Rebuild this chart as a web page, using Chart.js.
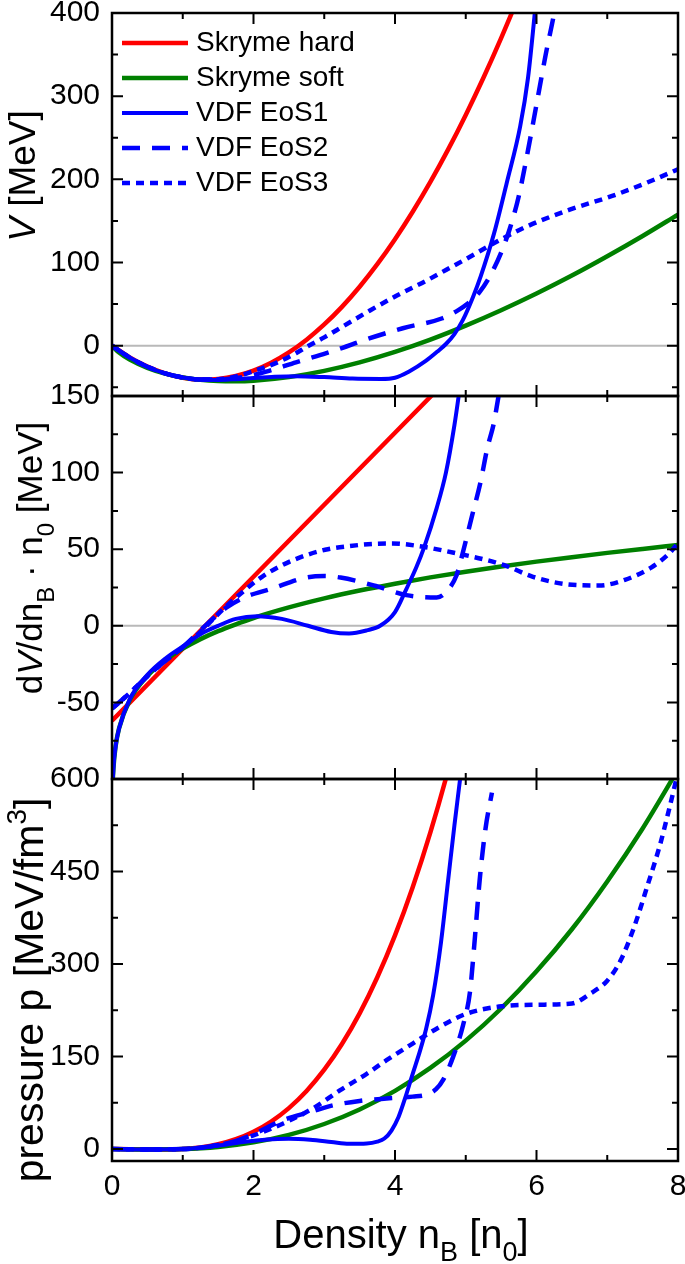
<!DOCTYPE html>
<html>
<head>
<meta charset="utf-8">
<script src="https://cdn.jsdelivr.net/npm/chart.js@4.4.1/dist/chart.umd.min.js"></script>
<style>
  body { margin: 0; background: #fff; }
  #wrap { position: relative; width: 685px; height: 1264px; overflow: hidden; }
  canvas { position: absolute; left: 0; }
</style>
</head>
<body>
<div id="wrap">
  <canvas id="cV" width="685" height="420" style="top:0"></canvas>
  <canvas id="cD" width="685" height="430" style="top:370px"></canvas>
  <canvas id="cP" width="685" height="514" style="top:750px"></canvas>
</div>
<script>
// ---- tick labels ----
const nTicks = [0, 2, 4, 6, 8];
const vTicks = [0, 100, 200, 300, 400];
const dTicks = [-50, 0, 50, 100, 150];
const pTicks = [0, 150, 300, 450, 600];

const names = ['Skryme hard', 'Skryme soft', 'VDF EoS1', 'VDF EoS2', 'VDF EoS3'];

// ---- potential V [MeV] ----
const hardVn = [0, 0.25, 0.5, 0.75, 1, 1.25, 1.5, 1.75, 2, 2.25, 2.5, 2.75, 3, 3.25, 3.5, 3.75, 4, 4.25, 4.5, 4.75, 5, 5.25, 5.5, 5.75, 6];
const hardV  = [0, -14, -25.1, -33.3, -38.5, -40.8, -40.1, -36.5, -30, -20.5, -8.1, 7.2, 25.5, 46.7, 70.9, 98, 128, 161, 196.9, 235.7, 277.5, 322.2, 369.9, 420.5, 474];
const softVn = [0, 0.1, 0.25, 0.5, 0.75, 1, 1.25, 1.5, 1.75, 2, 2.5, 3, 3.5, 4, 4.5, 5, 5.5, 6, 6.5, 7, 7.5, 8];
const softV  = [0, -8.3, -16.8, -26.7, -33.6, -38.2, -41.1, -42.6, -42.9, -42.2, -37.8, -30.3, -20.1, -7.5, 7.3, 24.1, 42.6, 62.7, 84.3, 107.5, 131.9, 157.6];
const eos1Vn = [0, 0.25, 0.5, 0.75, 1, 1.25, 1.5, 1.75, 2, 2.3, 2.6, 3, 3.4, 3.8, 4, 4.2, 4.44, 4.6, 4.72, 4.84, 4.96, 5.1, 5.21, 5.4, 5.58, 5.77, 5.88, 5.97, 6.04];
const eos1V  = [0, -14.3, -25.3, -33.3, -38.3, -40.8, -41.2, -40.3, -38.8, -37.3, -36.7, -37.8, -39.6, -40, -38.5, -31, -18, -7, 2, 14, 31, 58, 83, 135, 196, 264, 322, 395, 460];
const eos2Vn = [0, 0.25, 0.5, 0.75, 1, 1.25, 1.5, 1.9, 2.23, 2.6, 3.03, 3.26, 3.54, 4.11, 4.67, 4.9, 5.02, 5.2, 5.35, 5.5, 5.62, 5.75, 5.88, 6, 6.13, 6.25, 6.35];
const eos2V  = [0, -14.3, -25.3, -33.3, -38.3, -40.8, -40.6, -37, -30, -20, -9, -2.5, 6, 21, 33, 43, 50, 65, 85, 112, 140, 180, 235, 290, 350, 400, 450];
const eos3Vn = [0, 0.25, 0.5, 0.75, 1, 1.25, 1.5, 1.75, 1.95, 2.34, 2.6, 2.76, 3, 3.26, 3.64, 4.02, 4.44, 4.72, 5, 5.37, 5.83, 6.45, 7.07, 7.56, 8];
const eos3V  = [0, -14.3, -25.3, -33.3, -38.3, -40.8, -40.4, -37, -32, -20, -9, -1, 10, 23, 42, 60, 78, 91, 104, 122, 142, 163, 180, 196, 212];

// ---- dV/dn_B * n0 [MeV] ----
const hardDn = [0, 8];
const hardD  = [-62, 314];
const softDn = [0, 0.001, 0.005, 0.01, 0.02, 0.05, 0.1, 0.25, 0.5, 0.75, 1, 1.25, 1.5, 1.75, 2, 2.5, 3, 3.5, 4, 4.5, 5, 5.5, 6, 6.5, 7, 7.5, 8];
const softD  = [-178, -126.4, -110.6, -102.3, -93, -79, -66.9, -48.5, -32.7, -22.5, -14.9, -8.7, -3.5, 1, 5.1, 12, 17.9, 23, 27.5, 31.6, 35.3, 38.7, 41.9, 44.8, 47.6, 50.2, 52.7];
const eos1Dn = [0, 0.002, 0.01, 0.03, 0.06, 0.1, 0.25, 0.5, 0.75, 1, 1.25, 1.5, 1.75, 2.05, 2.4, 2.77, 3.1, 3.35, 3.6, 3.79, 4, 4.16, 4.3, 4.41, 4.59, 4.72, 4.84, 4.9, 5];
const eos1D  = [-180, -120, -101, -87, -76, -67, -48, -32, -21.5, -13.5, -5.5, 0, 4.5, 6.3, 4.5, 0, -4, -5, -3, 0, 9, 24, 38, 51, 77, 100, 131, 150, 185];
const eos2Dn = [0, 0.2, 0.5, 0.75, 1, 1.25, 1.4, 1.62, 1.87, 2.24, 2.74, 3, 3.23, 3.73, 4.16, 4.59, 4.72, 4.87, 4.96, 5.09, 5.21, 5.3, 5.4, 5.46, 5.55];
const eos2D  = [-54, -46, -33, -23, -14, -3, 3.5, 12, 18.5, 24, 31.5, 32.5, 31.5, 26, 20, 18.5, 22, 33, 48, 72, 94, 115, 133, 149, 172];
const eos3Dn = [0, 0.2, 0.5, 0.75, 1, 1.25, 1.4, 1.62, 1.87, 2.12, 2.4, 2.74, 3.05, 3.35, 3.7, 3.97, 4.34, 4.9, 5.33, 5.58, 5.95, 6.45, 6.88, 7.25, 7.62, 7.87, 8];
const eos3D  = [-54, -46, -33, -23, -14, -4, 3, 13, 23, 32, 39.5, 46, 50, 52, 53.5, 53.7, 52, 47, 42.5, 39, 32, 27, 26.3, 30, 38, 47, 54];

// ---- pressure p [MeV/fm^3] ----
const hardPn = [0, 0.25, 0.5, 0.75, 1, 1.25, 1.5, 1.75, 2, 2.25, 2.5, 2.75, 3, 3.25, 3.5, 3.75, 4, 4.25, 4.5, 4.75, 5];
const hardP  = [0, -0.3, -0.8, -0.9, 0, 2.6, 7.7, 15.9, 28, 44.6, 66.4, 94.2, 128.6, 170.3, 220, 278.6, 346.5, 424.6, 513.5, 613.9, 726.6];
const softPn = [0, 0.5, 1, 1.5, 2, 2.5, 3, 3.5, 4, 4.5, 5, 5.5, 6, 6.5, 7, 7.5, 8];
const softP  = [0, -0.6, 0, 3.4, 10.8, 22.9, 40.6, 64.2, 94.3, 131.5, 175.8, 227.9, 288.2, 356.4, 433.9, 519.8, 615.4];
const eos1Pn = [0, 0.5, 1, 1.5, 1.85, 2.2, 2.5, 2.8, 3.1, 3.35, 3.6, 3.75, 3.85, 3.95, 4.05, 4.15, 4.25, 4.35, 4.44, 4.54, 4.65, 4.75, 4.84, 4.92, 5];
const eos1P  = [0, -0.6, 0, 5.5, 11.5, 15.5, 16.5, 15, 11.5, 8.5, 9, 12, 17, 30, 52, 85, 122, 158, 195, 250, 335, 435, 525, 600, 680];
const eos2Pn = [0, 0.5, 1, 1.5, 1.8, 2, 2.42, 2.8, 3.13, 3.5, 3.88, 4.25, 4.44, 4.58, 4.68, 4.82, 4.96, 5.06, 5.12, 5.2, 5.28, 5.37];
const eos2P  = [0, -0.6, 0, 6.5, 15, 24, 47, 60, 71, 78, 82, 85, 88, 97, 112, 149, 200, 255, 330, 440, 520, 578];
const eos3Pn = [0, 0.5, 1, 1.5, 1.75, 1.95, 2.42, 2.84, 3.22, 3.6, 3.88, 4.25, 4.63, 5, 5.47, 6, 6.5, 6.76, 7, 7.19, 7.38, 7.56, 7.75, 7.87, 7.96, 8];
const eos3P  = [0, -0.6, 0, 6.5, 13, 20, 41.5, 66, 95, 122, 144, 171, 198, 219, 231, 234, 236, 252, 273, 306, 360, 424, 495, 549, 592, 612];

const FONT = '"Liberation Sans", Arial, sans-serif';
Chart.defaults.font.family = FONT;
Chart.defaults.color = '#000';

const looks = [
  { borderColor: '#ff0000', borderWidth: 4.5, order: 5 },
  { borderColor: '#008000', borderWidth: 4.5, order: 4 },
  { borderColor: '#0000ff', borderWidth: 4, order: 1 },
  { borderColor: '#0000ff', borderWidth: 4.5, borderDash: [18, 12], order: 2 },
  { borderColor: '#0000ff', borderWidth: 4.5, borderDash: [8, 6], order: 3 }
];

function series(i, xs, ys) {
  return Object.assign({
    label: names[i],
    data: xs.map((x, k) => ({ x: x, y: ys[k] })),
    pointRadius: 0,
    fill: false,
    cubicInterpolationMode: 'monotone',
    capBezierPoints: false,
    clip: 0
  }, looks[i]);
}

// rich text: parts with sub / sup / italic, centred on (x, y) baseline
function drawRich(ctx, parts, x, y, size, rotate) {
  ctx.save();
  ctx.translate(x, y);
  if (rotate) ctx.rotate(-Math.PI / 2);
  const fontOf = p => (p.i ? 'italic ' : '') + ((p.s || p.u) ? Math.round(size * 0.68) : size) + 'px ' + FONT;
  let total = 0;
  parts.forEach(p => { ctx.font = fontOf(p); total += ctx.measureText(p.t).width; });
  let cx = -total / 2;
  ctx.fillStyle = '#000';
  ctx.textAlign = 'left';
  ctx.textBaseline = 'alphabetic';
  parts.forEach(p => {
    ctx.font = fontOf(p);
    const dy = p.s ? size * 0.33 : (p.u ? -size * 0.42 : 0);
    ctx.fillText(p.t, cx, dy);
    cx += ctx.measureText(p.t).width;
  });
  ctx.restore();
}

const framePlugin = {
  id: 'frame',
  beforeDatasetsDraw(chart, args, o) {
    if (!o.zeroLine) return;
    const { ctx, chartArea: a, scales: { y } } = chart;
    const yz = y.getPixelForValue(0);
    ctx.save();
    ctx.strokeStyle = '#b9b9b9';
    ctx.lineWidth = 2;
    ctx.beginPath(); ctx.moveTo(a.left, yz); ctx.lineTo(a.right, yz); ctx.stroke();
    ctx.restore();
  },
  afterDatasetsDraw(chart, args, o) {
    const { ctx, chartArea: a, scales: { x, y } } = chart;
    ctx.save();
    ctx.strokeStyle = '#000';
    ctx.lineWidth = 2;
    ctx.beginPath();
    const hx = o.xStep / 2;
    for (let k = Math.ceil(x.min / hx); k * hx <= x.max + 1e-9; k++) {
      const px = x.getPixelForValue(k * hx);
      const len = k % 2 === 0 ? 11 : 6;
      ctx.moveTo(px, a.bottom); ctx.lineTo(px, a.bottom - len);
      ctx.moveTo(px, a.top); ctx.lineTo(px, a.top + len);
    }
    const hy = o.yStep / 2;
    for (let k = Math.ceil(y.min / hy - 1e-9); k * hy <= y.max + 1e-9; k++) {
      const py = y.getPixelForValue(k * hy);
      const len = k % 2 === 0 ? 11 : 6;
      ctx.moveTo(a.left, py); ctx.lineTo(a.left + len, py);
      ctx.moveTo(a.right, py); ctx.lineTo(a.right - len, py);
    }
    ctx.stroke();
    ctx.lineWidth = 2.5;
    ctx.strokeRect(a.left, a.top, a.right - a.left, a.bottom - a.top);
    ctx.restore();
  },
  afterDraw(chart, args, o) {
    const ctx = chart.ctx;
    if (o.yTitle) drawRich(ctx, o.yTitle.parts, o.yTitle.x, o.yTitle.y, o.yTitle.size, true);
    if (o.xTitle) drawRich(ctx, o.xTitle.parts, o.xTitle.x, o.xTitle.y, o.xTitle.size, false);
    if (o.legend) {
      const L = o.legend;
      ctx.save();
      ctx.font = L.size + 'px ' + FONT;
      ctx.textBaseline = 'middle';
      ctx.fillStyle = '#000';
      chart.data.datasets.forEach((ds, i) => {
        const yy = L.y0 + i * L.dy;
        ctx.strokeStyle = ds.borderColor;
        ctx.lineWidth = ds.borderWidth;
        ctx.setLineDash(ds.borderDash || []);
        ctx.beginPath(); ctx.moveTo(L.x0, yy); ctx.lineTo(L.x1, yy); ctx.stroke();
        ctx.fillText(ds.label, L.tx, yy);
      });
      ctx.restore();
    }
  }
};

function makeChart(id, datasets, yMin, yMax, yLabels, yStep, pad, frame, showX) {
  return new Chart(document.getElementById(id), {
    type: 'line',
    data: { datasets: datasets },
    plugins: [framePlugin],
    options: {
      responsive: false,
      animation: false,
      devicePixelRatio: 1,
      layout: { padding: pad },
      plugins: { legend: { display: false }, tooltip: { enabled: false }, frame: Object.assign({ xStep: 2, yStep: yStep }, frame) },
      scales: {
        x: {
          type: 'linear', min: 0, max: 8,
          display: showX,
          grid: { display: false, drawTicks: false },
          border: { display: false },
          ticks: { font: { size: 30 }, padding: 8, maxRotation: 0 },
          afterBuildTicks: s => { s.ticks = nTicks.map(v => ({ value: v })); },
          afterFit: s => { s.height = showX ? 103 : 0; s.paddingLeft = 0; s.paddingRight = 0; }
        },
        y: {
          type: 'linear', min: yMin, max: yMax,
          grid: { display: false, drawTicks: false },
          border: { display: false },
          ticks: { font: { size: 30 }, padding: 12 },
          afterBuildTicks: s => { s.ticks = yLabels.map(v => ({ value: v })); },
          afterFit: s => { s.width = 112; s.paddingTop = 0; s.paddingBottom = 0; }
        }
      }
    }
  });
}

makeChart('cV', [
  series(0, hardVn, hardV), series(1, softVn, softV), series(2, eos1Vn, eos1V),
  series(3, eos2Vn, eos2V), series(4, eos3Vn, eos3V)
], -60.5, 400, vTicks, 100, { top: 13, bottom: 24, left: 0, right: 7 }, {
  zeroLine: true,
  yTitle: { parts: [{ t: 'V', i: true }, { t: ' [MeV]' }], x: 35, y: 176, size: 37 },
  legend: { x0: 122, x1: 188, tx: 196, y0: 43, dy: 35, size: 28 }
}, false);

makeChart('cD', [
  series(0, hardDn, hardD), series(1, softDn, softD), series(2, eos1Dn, eos1D),
  series(3, eos2Dn, eos2D), series(4, eos3Dn, eos3D)
], -100, 150, dTicks, 50, { top: 26, bottom: 21, left: 0, right: 7 }, {
  zeroLine: true,
  yTitle: { parts: [{ t: 'd' }, { t: 'V', i: true }, { t: '/dn' }, { t: 'B', s: true }, { t: ' \u00b7 n' }, { t: '0', s: true }, { t: ' [MeV]' }], x: 42, y: 188, size: 35 }
}, false);

makeChart('cP', [
  series(0, hardPn, hardP), series(1, softPn, softP), series(2, eos1Pn, eos1P),
  series(3, eos2Pn, eos2P), series(4, eos3Pn, eos3P)
], -19.4, 600, pTicks, 150, { top: 29, bottom: 0, left: 0, right: 7 }, {
  yTitle: { parts: [{ t: 'pressure p [MeV/fm' }, { t: '3', u: true }, { t: ']' }], x: 43, y: 240, size: 41 },
  xTitle: { parts: [{ t: 'Density n' }, { t: 'B', s: true }, { t: ' [n' }, { t: '0', s: true }, { t: ']' }], x: 401, y: 498, size: 40 }
}, true);
</script>
</body>
</html>
